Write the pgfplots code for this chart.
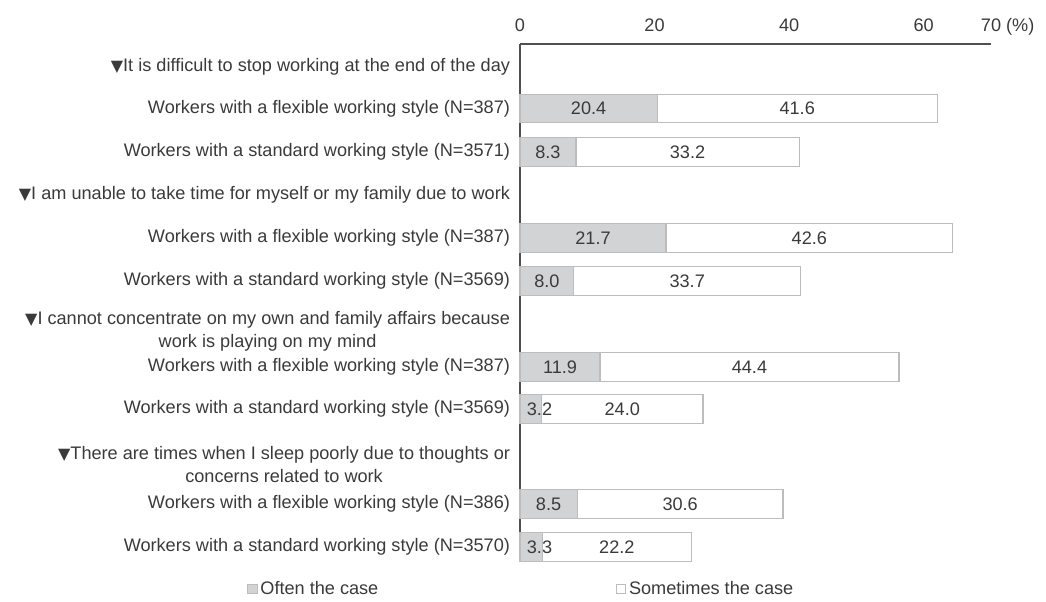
\documentclass[border=0pt]{standalone}
\usepackage{fontspec}
\setmainfont{Liberation Sans}
\newfontfamily\dejavu{DejaVu Sans}
\usepackage{pgfplots}
\usepackage{pgfplotstable}
\pgfplotsset{compat=1.18}

\definecolor{txt}{HTML}{3A3A3A}
\definecolor{oftengray}{HTML}{D2D3D5}
\definecolor{barline}{HTML}{BDBDBD}
\definecolor{axisline}{HTML}{505050}

% y = vertical position of each row (layout units, 0 = bottom of picture)
\pgfplotstableread{
y     often some
492.5 20.4  41.6
449   8.3   33.2
363   21.7  42.6
320   8.0   33.7
234   11.9  44.4
192   3.2   24.0
97    8.5   30.6
54    3.3   22.2
}\data

\newcommand{\fs}{\fontsize{13.6}{17}\selectfont}
\newcommand{\tri}{{\dejavu\fontsize{12}{12}\selectfont ▼}}

\begin{document}
\begin{tikzpicture}
\begin{axis}[
    scale only axis,
    width=353.25pt, height=387pt,
    xmin=0, xmax=70, ymin=41, ymax=557,
    axis x line=top, axis y line=left,
    axis line style={-, draw=axisline, line width=0.9pt},
    major tick length=0pt,
    xtick={0,20,40,60,70},
    xticklabels={0,20,40,60,{70\rlap{\smash{ (\%)}}}},
    ytick={534,492.5,449,406,363,320,270,234,192,136.5,97,54},
    yticklabels={
        {\tri It is difficult to stop working at the end of the day},
        {Workers with a flexible working style (N=387)},
        {Workers with a standard working style (N=3571)},
        {\tri I am unable to take time for myself or my family due to work},
        {Workers with a flexible working style (N=387)},
        {Workers with a standard working style (N=3569)},
        {\tri I cannot concentrate on my own and family affairs because\\work is playing on my mind},
        {Workers with a flexible working style (N=387)},
        {Workers with a standard working style (N=3569)},
        {\tri There are times when I sleep poorly due to thoughts or\\concerns related to work},
        {Workers with a flexible working style (N=386)},
        {Workers with a standard working style (N=3570)},
    },
    yticklabel style={align=center, font=\fs, text=txt, xshift=-4pt},
    xticklabel style={font=\fs, text=txt, yshift=6pt},
    /pgf/number format/assume math mode=true,
    clip=false,
    legend columns=2,
    legend style={at={(axis cs:-40.6,12)}, anchor=west, draw=none, fill=none,
        font=\fs, text=txt, inner sep=0pt,
        /tikz/every even column/.append style={column sep=176pt}},
]
% total bar (white), then the "often" part on top of it
\addplot[forget plot, xbar, bar width=28.5, bar shift=0pt, fill=white, draw=barline, line width=1pt]
    table[y=y, x expr=\thisrow{often}+\thisrow{some}] {\data};
\addplot[forget plot, xbar, bar width=28.5, bar shift=0pt, fill=oftengray, draw=barline, line width=1pt]
    table[y=y, x=often] {\data};

% value labels
\addplot[forget plot, draw=none, mark=none, nodes near coords, point meta=explicit symbolic,
    every node near coord/.style={anchor=center, font=\fs, text=txt}]
    table[y=y, x expr={max(\thisrow{often}/2,2.9)}, meta=often] {\data};
\addplot[forget plot, draw=none, mark=none, nodes near coords, point meta=explicit symbolic,
    every node near coord/.style={anchor=center, font=\fs, text=txt}]
    table[y=y, x expr=\thisrow{often}+\thisrow{some}/2, meta=some] {\data};

\addlegendimage{legend image code/.code={\draw[fill=oftengray, draw=barline, line width=0.8pt] (-2.5pt,-3.6pt) rectangle (4.7pt,3.6pt);}}
\addlegendentry{Often the case}
\addlegendimage{legend image code/.code={\draw[fill=white, draw=barline, line width=0.8pt] (-2.5pt,-3.6pt) rectangle (4.7pt,3.6pt);}}
\addlegendentry{Sometimes the case}

\coordinate (BL) at (axis cs:-77.28,0);
\coordinate (TR) at (axis cs:78.17,601);
\end{axis}
\path (BL) rectangle (TR);
\end{tikzpicture}
\end{document}
